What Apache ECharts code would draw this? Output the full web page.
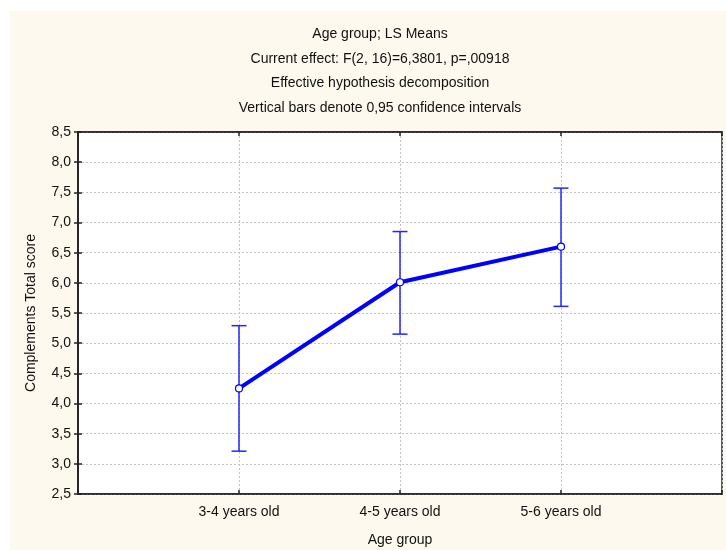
<!DOCTYPE html>
<html>
<head>
<meta charset="utf-8">
<script src="https://cdn.jsdelivr.net/npm/echarts@6/dist/echarts.min.js"></script>
<style>
  html, body { margin: 0; padding: 0; background: #ffffff; }
  #chart { position: absolute; left: 10px; top: 11px; width: 716px; height: 539px; }
</style>
</head>
<body>
<div id="chart"></div>
<script>
// ---- data ----
const categories = ['3-4 years old', '4-5 years old', '5-6 years old'];
const means = [4.25, 6.01, 6.60];
const ciLower = [3.21, 5.15, 5.61];
const ciUpper = [5.29, 6.85, 7.57];
const titleLines = [
  'Age group; LS Means',
  'Current effect: F(2, 16)=6,3801, p=,00918',
  'Effective hypothesis decomposition',
  'Vertical bars denote 0,95 confidence intervals'
];
const xTitle = 'Age group';
const yTitle = 'Complements Total score';

// ---- chart ----
const FONT = 'Liberation Sans, Arial, sans-serif';
const chart = echarts.init(document.getElementById('chart'));
const lineData = categories.map((c, i) => [i + 1, means[i]]);
const errData = categories.map((c, i) => [i + 1, ciLower[i], ciUpper[i]]);
const gridLine = { show: true, lineStyle: { color: '#c4c4c4', width: 1, type: [2, 2] } };
const axisLine = { show: true, lineStyle: { color: '#222', width: 1.5 } };
const tickIn = { show: true, inside: true, length: 4, lineStyle: { color: '#222', width: 1.5 } };

chart.setOption({
  backgroundColor: '#FEF9EF',
  animation: false,
  title: {
    text: titleLines.join('\n'),
    left: 365, top: 6, textAlign: 'center',
    textStyle: { fontFamily: FONT, fontSize: 14, fontWeight: 'normal', color: '#111', lineHeight: 24.6 }
  },
  grid: {
    left: 68, top: 121, right: 4, bottom: 56,
    outerBoundsMode: 'none', containLabel: false,
    show: true, backgroundColor: '#ffffff', borderColor: '#222', borderWidth: 1.5
  },
  xAxis: [{
    type: 'value', min: 0, max: 4, interval: 1,
    name: xTitle, nameLocation: 'middle', nameGap: 39,
    nameTextStyle: { fontFamily: FONT, fontSize: 14, color: '#111' },
    axisLine: axisLine, axisTick: tickIn,
    axisLabel: {
      margin: 11, fontFamily: FONT, fontSize: 14, color: '#111',
      formatter: v => (v >= 1 && v <= categories.length) ? categories[v - 1] : ''
    },
    splitLine: gridLine
  }, {
    type: 'value', min: 0, max: 4, interval: 1, position: 'top',
    axisLine: axisLine, axisTick: tickIn, axisLabel: { show: false }, splitLine: { show: false }
  }],
  yAxis: [{
    type: 'value', min: 2.5, max: 8.5, interval: 0.5,
    name: yTitle, nameLocation: 'middle', nameGap: 40,
    nameTextStyle: { fontFamily: FONT, fontSize: 14, color: '#111' },
    axisLine: axisLine, axisTick: tickIn,
    axisLabel: {
      margin: 7, fontFamily: FONT, fontSize: 14, color: '#111',
      formatter: v => v.toFixed(1).replace('.', ',')
    },
    splitLine: gridLine
  }, {
    type: 'value', min: 2.5, max: 8.5, interval: 0.5, position: 'right',
    axisLine: axisLine, axisTick: tickIn, axisLabel: { show: false }, splitLine: { show: false }
  }],
  series: [{
    type: 'custom',
    z: 1,
    data: errData,
    renderItem: function (params, api) {
      const x = api.value(0);
      const lo = api.coord([x, api.value(1)]);
      const hi = api.coord([x, api.value(2)]);
      const hw = 7.5;
      const style = { stroke: '#2424ff', lineWidth: 1.5 };
      return {
        type: 'group',
        children: [
          { type: 'line', shape: { x1: lo[0], y1: lo[1], x2: hi[0], y2: hi[1] }, style: style },
          { type: 'line', shape: { x1: lo[0] - hw, y1: lo[1], x2: lo[0] + hw, y2: lo[1] }, style: style },
          { type: 'line', shape: { x1: hi[0] - hw, y1: hi[1], x2: hi[0] + hw, y2: hi[1] }, style: style }
        ]
      };
    }
  }, {
    type: 'line',
    z: 3,
    data: lineData,
    lineStyle: { color: '#0000ff', width: 4 },
    symbol: 'circle', symbolSize: 7,
    itemStyle: { color: '#ffffff', borderColor: '#0000ff', borderWidth: 1.2 }
  }]
});
</script>
</body>
</html>
